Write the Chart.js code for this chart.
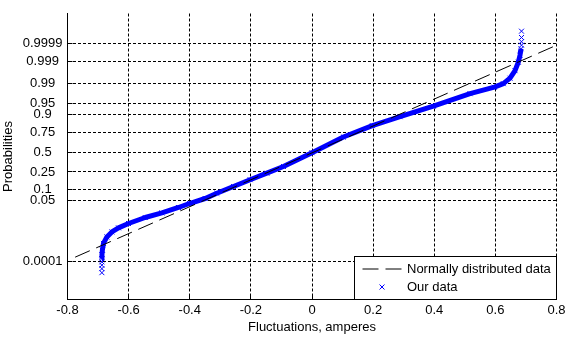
<!DOCTYPE html>
<html>
<head>
<meta charset="utf-8">
<script src="https://cdn.jsdelivr.net/npm/chart.js@4/dist/chart.umd.min.js"></script>
<style>
  html, body { margin: 0; padding: 0; background: #fff; }
  #wrap { width: 567px; height: 337px; position: relative; }
</style>
</head>
<body>
<div id="wrap"><canvas id="normplot"></canvas></div>
<script>
// probability axis ticks
const probTicks = [0.0001, 0.05, 0.1, 0.25, 0.5, 0.75, 0.9, 0.95, 0.99, 0.999, 0.9999];
const probLabels = ['0.0001', '0.05', '0.1', '0.25', '0.5', '0.75', '0.9', '0.95', '0.99', '0.999', '0.9999'];
const xTickLabels = ['-0.8', '-0.6', '-0.4', '-0.2', '0', '0.2', '0.4', '0.6', '0.8'];

const dataX = [
    -0.6875, -0.6875, -0.6875, -0.6875,
    -0.6875, -0.6872, -0.6859, -0.6823, -0.6711, -0.6548, -0.6332, -0.6005, -0.5459, -0.4912,
    -0.4370, -0.4010, -0.3496, -0.3114, -0.2571, -0.2025, -0.1478, -0.0935, 0.0000, 0.1027,
    0.1975, 0.2881, 0.3971, 0.5171, 0.5966, 0.6260, 0.6479, 0.6643, 0.6751, 0.6806, 0.6839,
    0.6855, 0.6855, 0.6855, 0.6855
];
const dataP = [
    0.0000202, 0.0000362, 0.0000593, 0.0000932,
    0.000143, 0.000241, 0.000424, 0.000943, 0.00195, 0.0033, 0.00496, 0.00757, 0.01304, 0.0193,
    0.0298, 0.0402, 0.0573, 0.0812, 0.1212, 0.1744, 0.2372, 0.3131, 0.4932, 0.6977,
    0.8167, 0.8868, 0.9414, 0.97688, 0.98661, 0.99020, 0.99415, 0.99726, 0.998915, 0.999522, 0.999788,
    0.999866, 0.9999163, 0.9999533, 0.9999813
];
const tailLow = 4;   // isolated markers at the ends
const tailHigh = 4;

// fitted normal reference line
const refX = [-0.775, 0.8];
const refP = [0.000174, 0.999866];

// inverse normal cdf (Acklam)
function normInv(p) {
    const a = [-3.969683028665376e+01, 2.209460984245205e+02, -2.759285104469687e+02, 1.383577518672690e+02, -3.066479806614716e+01, 2.506628277459239e+00];
    const b = [-5.447609879822406e+01, 1.615858368580409e+02, -1.556989798598866e+02, 6.680131188771972e+01, -1.328068155288572e+01];
    const c = [-7.784894002430293e-03, -3.223964580411365e-01, -2.400758277161838e+00, -2.549732539343734e+00, 4.374664141464968e+00, 2.938163982698783e+00];
    const d = [7.784695709041462e-03, 3.224671290700398e-01, 2.445134137142996e+00, 3.754408661907416e+00];
    const pl = 0.02425;
    let q, r;
    if (p < pl) {
        q = Math.sqrt(-2 * Math.log(p));
        return (((((c[0]*q+c[1])*q+c[2])*q+c[3])*q+c[4])*q+c[5]) / ((((d[0]*q+d[1])*q+d[2])*q+d[3])*q+1);
    }
    if (p > 1 - pl) {
        q = Math.sqrt(-2 * Math.log(1 - p));
        return -(((((c[0]*q+c[1])*q+c[2])*q+c[3])*q+c[4])*q+c[5]) / ((((d[0]*q+d[1])*q+d[2])*q+d[3])*q+1);
    }
    q = p - 0.5;
    r = q * q;
    return (((((a[0]*r+a[1])*r+a[2])*r+a[3])*r+a[4])*r+a[5])*q / (((((b[0]*r+b[1])*r+b[2])*r+b[3])*r+b[4])*r+1);
}

function normCdf(z) {
    const t = 1 / (1 + 0.2316419 * Math.abs(z));
    const dd = 0.3989422804014327 * Math.exp(-z * z / 2);
    const q = dd * t * (0.319381530 + t * (-0.356563782 + t * (1.781477937 + t * (-1.821255978 + t * 1.330274429))));
    return z > 0 ? 1 - q : q;
}

// normal probability scale
class ProbitScale extends Chart.Scale {
    static id = 'probit';
    static defaults = {};
    determineDataLimits() {
        this.min = this.options.min;
        this.max = this.options.max;
    }
    buildTicks() {
        return probTicks.map(v => ({ value: v }));
    }
    getLabelForValue(v) {
        return String(v);
    }
    configure() {
        super.configure();
        this._zStart = normInv(this.min);
        this._zRange = normInv(this.max) - this._zStart;
    }
    getPixelForValue(v) {
        return this.getPixelForDecimal((normInv(v) - this._zStart) / this._zRange);
    }
    getValueForPixel(px) {
        return normCdf(this._zStart + this.getDecimalForPixel(px) * this._zRange);
    }
}
Chart.register(ProbitScale);

Chart.defaults.font.family = '"Liberation Sans", Arial, sans-serif';
Chart.defaults.font.size = 13;
Chart.defaults.color = '#000';

const FONT = '13px "Liberation Sans", Arial, sans-serif';

// small inward tick marks on left and bottom axes
const innerTicks = {
    id: 'innerTicks',
    beforeDatasetsDraw(chart) {
        const { ctx, chartArea: a, scales } = chart;
        ctx.save();
        ctx.strokeStyle = '#000';
        ctx.lineWidth = 1;
        ctx.beginPath();
        scales.x.ticks.forEach((t, i) => {
            const px = Math.round(scales.x.getPixelForTick(i) - 0.5) + 0.5;
            ctx.moveTo(px, a.bottom);
            ctx.lineTo(px, a.bottom - 5);
        });
        scales.y.ticks.forEach((t, i) => {
            const py = Math.round(scales.y.getPixelForTick(i) - 0.5) + 0.5;
            ctx.moveTo(a.left, py);
            ctx.lineTo(a.left + 5, py);
        });
        ctx.stroke();
        ctx.restore();
    }
};

// boxed legend in the lower right corner
const legendBox = {
    id: 'legendBox',
    afterDraw(chart) {
        const { ctx, chartArea: a } = chart;
        const w = 202, h = 43;
        const x0 = a.right - w, y0 = a.bottom - h;
        ctx.save();
        ctx.fillStyle = '#fff';
        ctx.fillRect(x0, y0, w, h);
        ctx.strokeStyle = '#000';
        ctx.lineWidth = 1;
        ctx.strokeRect(x0, y0, w, h);

        const y1 = y0 + 12.5, y2 = y0 + 30.5;
        ctx.setLineDash([16, 7]);
        ctx.beginPath();
        ctx.moveTo(x0 + 8, y1);
        ctx.lineTo(x0 + 49, y1);
        ctx.stroke();
        ctx.setLineDash([]);

        const mx = x0 + 27.5;
        ctx.strokeStyle = '#0000ff';
        ctx.beginPath();
        ctx.moveTo(mx - 2.5, y2 - 2.5);
        ctx.lineTo(mx + 2.5, y2 + 2.5);
        ctx.moveTo(mx - 2.5, y2 + 2.5);
        ctx.lineTo(mx + 2.5, y2 - 2.5);
        ctx.stroke();

        ctx.fillStyle = '#000';
        ctx.font = FONT;
        ctx.textBaseline = 'middle';
        ctx.textAlign = 'left';
        ctx.fillText('Normally distributed data', x0 + 52.5, y1);
        ctx.fillText('Our data', x0 + 52.5, y2);
        ctx.restore();
    }
};

const ctx = document.getElementById('normplot').getContext('2d');

const chart_normplot = new Chart(ctx, {
    type: 'scatter',
    data: {
        datasets: [{
            label: 'Normally distributed data',
            data: refX.map((x, i) => ({ x: x, y: refP[i] })),
            showLine: true,
            borderColor: '#000000',
            borderWidth: 1,
            borderDash: [16, 7],
            pointRadius: 0
        }, {
            label: 'Our data',
            data: dataX.map((x, i) => ({ x: x, y: dataP[i] })),
            showLine: true,
            borderColor: '#0000ff',
            borderWidth: 5,
            borderJoinStyle: 'round',
            pointStyle: 'crossRot',
            pointRadius: 3.5,
            pointBorderWidth: 1,
            pointBorderColor: '#0000ff',
            pointBackgroundColor: '#0000ff',
            segment: {
                borderColor: c => (c.p0DataIndex < tailLow || c.p1DataIndex >= dataX.length - tailHigh) ? 'rgba(0,0,0,0)' : undefined
            }
        }]
    },
    options: {
        responsive: true,
        maintainAspectRatio: false,
        animation: false,
        events: [],
        layout: {
            padding: { left: 0, right: 10.5, top: 13.5, bottom: 0 }
        },
        plugins: {
            legend: { display: false },
            tooltip: { enabled: false }
        },
        scales: {
            x: {
                type: 'linear',
                position: 'bottom',
                min: -0.8,
                max: 0.8,
                afterFit: s => {
                    s.height = 37.5;
                    s.paddingLeft = 0; s.paddingRight = 0;
                },
                ticks: {
                    stepSize: 0.2,
                    autoSkip: false,
                    maxRotation: 0,
                    padding: 3,
                    callback: (v, i) => xTickLabels[i]
                },
                grid: { color: '#000', lineWidth: 1, drawTicks: false },
                border: { color: '#000', width: 1, dash: [3, 2] },
                title: {
                    display: true,
                    text: 'Fluctuations, amperes',
                    padding: { top: 0, bottom: 1.5 }
                }
            },
            y: {
                type: 'probit',
                position: 'left',
                min: 2.6e-7,
                max: 0.99999885,
                afterFit: s => {
                    s.width = 67.5;
                    s.paddingTop = 0; s.paddingBottom = 0;
                },
                ticks: {
                    autoSkip: false,
                    crossAlign: 'center',
                    padding: 5,
                    callback: (v, i) => probLabels[i]
                },
                grid: { color: '#000', lineWidth: 1, drawTicks: false },
                border: { color: '#000', width: 1, dash: [3, 2] },
                title: {
                    display: true,
                    text: 'Probabilities',
                    padding: { top: 0.5, bottom: 0 }
                }
            }
        }
    },
    plugins: [innerTicks, legendBox]
});
</script>
</body>
</html>
